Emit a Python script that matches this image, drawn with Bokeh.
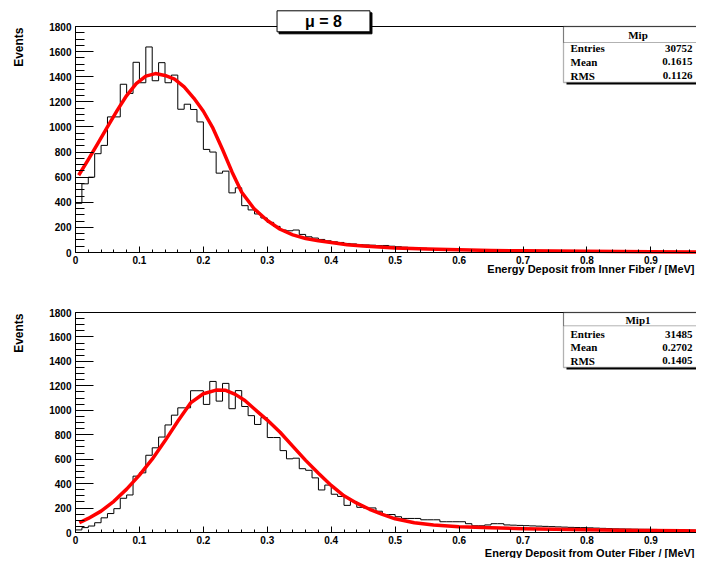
import numpy as np
from bokeh.plotting import figure
from bokeh.models import Range1d, FixedTicker, Label, BoxAnnotation
from bokeh.layouts import column
from bokeh.embed import file_html
from bokeh.resources import INLINE

# ---------------- data ----------------
bin_width = 0.01

inner_counts = [392, 547, 600, 787, 853, 1080, 1080, 1340, 1267, 1515,
                1352, 1637, 1368, 1512, 1352, 1413, 1141, 1181, 1139, 1040,
                821, 800, 632, 648, 475, 515, 373, 339, 307, 275,
                240, 208, 179, 173, 179, 144, 125, 115, 104, 93,
                85, 80, 72, 68, 62, 60, 58, 55, 56, 50,
                46, 42, 40, 37, 34, 32, 30, 28, 26, 24,
                22, 21, 20, 19, 18, 17, 16, 15, 14, 13,
                12, 12, 11, 11, 10, 10, 9, 9, 8, 8,
                8, 7, 7, 7, 6, 6, 6, 6, 5, 5,
                5, 5, 5, 4, 4, 4, 4, 4, 3, 3]

outer_counts = [21, 40, 53, 80, 120, 155, 195, 280, 307, 461,
                488, 632, 693, 781, 880, 960, 1020, 1020, 1160, 1160,
                1048, 1236, 1075, 1220, 1013, 1161, 1031, 956, 884, 940,
                777, 777, 670, 603, 608, 522, 509, 447, 348, 388,
                313, 295, 222, 254, 206, 201, 201, 174, 147, 147,
                129, 115, 115, 115, 104, 104, 104, 88, 88, 88,
                88, 72, 55, 55, 62, 72, 72, 62, 60, 58,
                56, 54, 52, 50, 48, 46, 44, 42, 41, 40,
                38, 36, 34, 32, 30, 29, 28, 27, 26, 26,
                25, 24, 23, 22, 21, 20, 19, 18, 17, 16]

inner_fit_x = [0.005, 0.02, 0.035, 0.05, 0.065, 0.08, 0.095, 0.11, 0.125, 0.14,
               0.155, 0.17, 0.185, 0.2, 0.215, 0.23, 0.245, 0.26, 0.28, 0.3,
               0.32, 0.34, 0.36, 0.38, 0.4, 0.425, 0.45, 0.5, 0.55, 0.6,
               0.65, 0.7, 0.8, 0.9, 1.0]
inner_fit_y = [615, 740, 870, 1000, 1130, 1250, 1345, 1405, 1425, 1410,
               1380, 1320, 1230, 1125, 990, 820, 640, 480, 345, 255,
               185, 140, 112, 94, 80, 61, 51, 35, 27, 21,
               16, 13, 9, 6, 4]

outer_fit_x = [0.006, 0.02, 0.04, 0.06, 0.08, 0.1, 0.12, 0.14, 0.16, 0.18,
               0.2, 0.22, 0.235, 0.25, 0.265, 0.28, 0.3, 0.32, 0.34, 0.36,
               0.38, 0.4, 0.42, 0.44, 0.46, 0.48, 0.5, 0.53, 0.56, 0.6,
               0.65, 0.7, 0.75, 0.8, 0.85, 0.9, 0.95, 1.0]
outer_fit_y = [80, 115, 175, 255, 355, 470, 600, 750, 910, 1060,
               1135, 1165, 1163, 1130, 1080, 1010, 920, 820, 705, 590,
               485, 385, 300, 240, 190, 148, 112, 80, 62, 48,
               38, 31, 26, 22, 18, 16, 14, 12]

x_ticks = [0, 0.1, 0.2, 0.3, 0.4, 0.5, 0.6, 0.7, 0.8, 0.9, 1.0]
x_tick_labels = ["0", "0.1", "0.2", "0.3", "0.4", "0.5", "0.6", "0.7", "0.8", "0.9", "1"]
y_ticks = [0, 200, 400, 600, 800, 1000, 1200, 1400, 1600, 1800]

title_text = "\u03bc = 8"
y_title = "Events"
inner_title = "Energy Deposit from Inner Fiber / [MeV]"
outer_title = "Energy Deposit from Outer Fiber / [MeV]"
stat_labels = ["Entries", "Mean", "RMS"]
inner_stats = ["30752", "0.1615", "0.1126"]
outer_stats = ["31485", "0.2702", "0.1405"]

# ---------------- layout helpers ----------------
W = 696
AXIS_X = 75.0          # pixel of x = 0
PX_PER_UNIT = 639.3    # pixels per 1.0 of x
SANS = "Liberation Sans"
SERIF = "Liberation Serif"


def make_panel(counts, fit_x, fit_y, fig_h, shift, frame_top, frame_h,
               xtitle, xtitle_mid, stat_name, stat_vals, stat_rows):
    # reference pixel y -> local canvas pixel y is (py - shift)
    frame_bottom = frame_top + frame_h   # local pixels

    def tx(px):
        return (px - AXIS_X) / PX_PER_UNIT

    def ty(py):
        return (frame_bottom - (py - shift)) * 1800.0 / frame_h

    x0 = tx(0)
    x1 = tx(W)
    y1 = (frame_bottom - 0) * 1800.0 / frame_h
    y0 = (frame_bottom - fig_h) * 1800.0 / frame_h

    p = figure(width=W, height=fig_h, x_range=Range1d(x0, x1), y_range=Range1d(y0, y1),
               output_backend="svg", toolbar_location=None, title=None,
               min_border_left=0, min_border_right=0, min_border_top=0, min_border_bottom=0)
    p.background_fill_color = "white"
    p.border_fill_color = "white"
    p.outline_line_color = None
    p.xgrid.visible = False
    p.ygrid.visible = False

    # histogram outline and fit
    edges = np.arange(len(counts) + 1) * bin_width
    p.step(edges, np.append(counts, counts[-1]), mode="after",
           line_color="black", line_width=1)
    p.line(fit_x, fit_y, line_color="#ff0000", line_width=3.5, line_join="round")

    # frame top border
    p.segment(x0=[0], y0=[1800], x1=[x1 + 0.05], y1=[1800], line_color="black", line_width=1)

    ax = p.xaxis[0]
    ax.fixed_location = 0
    ax.bounds = (0, 1)
    ax.ticker = FixedTicker(ticks=x_ticks, minor_ticks=[round(v, 2) for v in np.arange(0, 1.001, 0.02)])
    ax.major_label_overrides = dict(zip(x_ticks, x_tick_labels))
    ax.major_tick_in = 6
    ax.major_tick_out = 0
    ax.minor_tick_in = 3
    ax.minor_tick_out = 0
    ax.major_label_standoff = 3
    ay = p.yaxis[0]
    ay.fixed_location = 0
    ay.bounds = (0, 1800)
    ay.ticker = FixedTicker(ticks=y_ticks, minor_ticks=list(range(0, 1801, 50)))
    ay.major_tick_in = 18
    ay.major_tick_out = 0
    ay.minor_tick_in = 9
    ay.minor_tick_out = 0
    ay.major_label_standoff = 4
    for a in (ax, ay):
        a.axis_line_color = "black"
        a.major_tick_line_color = "black"
        a.minor_tick_line_color = "black"
        a.major_label_text_font = SANS
        a.major_label_text_font_size = "10px"
        a.major_label_text_font_style = "bold"
        a.major_label_text_color = "black"

    # axis titles
    p.add_layout(Label(x=tx(18), y=ty(frame_top + shift + 1), text=y_title, angle=90,
                       angle_units="deg", text_align="right", text_baseline="middle",
                       text_font=SANS, text_font_size="12px", text_font_style="bold",
                       text_color="black"))
    p.add_layout(Label(x=tx(694), y=ty(xtitle_mid), text=xtitle, text_align="right",
                       text_baseline="middle", text_font=SANS, text_font_size="11px",
                       text_font_style="bold", text_color="black"))

    # stats box
    top_r, sep_r, rows_r, bot_r = stat_rows
    p.add_layout(BoxAnnotation(left=tx(566), right=1.2, top=ty(bot_r - 1), bottom=ty(bot_r + 2),
                               fill_color="black", fill_alpha=1, line_color=None))
    p.add_layout(BoxAnnotation(left=tx(563), right=1.2, top=ty(top_r), bottom=ty(bot_r),
                               fill_color="white", fill_alpha=1, line_color="black", line_width=1.3))
    p.add_layout(BoxAnnotation(left=tx(563), right=1.2, top=ty(top_r), bottom=ty(sep_r),
                               fill_color=None, fill_alpha=0, line_color="black", line_width=1))
    p.add_layout(Label(x=tx(637.5), y=ty((top_r + sep_r) / 2 + 0.5), text=stat_name,
                       text_align="center", text_baseline="middle", text_font=SERIF,
                       text_font_size="11px", text_font_style="bold", text_color="black"))
    for lab, val, ry in zip(stat_labels, stat_vals, rows_r):
        p.add_layout(Label(x=tx(570), y=ty(ry), text=lab, text_align="left",
                           text_baseline="middle", text_font=SERIF, text_font_size="11px",
                           text_font_style="bold", text_color="black"))
        p.add_layout(Label(x=tx(692), y=ty(ry), text=val, text_align="right",
                           text_baseline="middle", text_font=SERIF, text_font_size="11px",
                           text_font_style="bold", text_color="black"))
    return p, tx, ty


p1, tx1, ty1 = make_panel(inner_counts, inner_fit_x, inner_fit_y, fig_h=276, shift=0,
                          frame_top=26, frame_h=226, xtitle=inner_title, xtitle_mid=268,
                          stat_name="Mip", stat_vals=inner_stats,
                          stat_rows=(26, 42, [47.5, 61.2, 75.3], 82))

# title box with shadow
p1.add_layout(Label(x=tx1(323), y=ty1(20.8), text=title_text, text_align="center",
                    text_baseline="middle", text_font=SANS, text_font_size="16px",
                    text_font_style="bold", text_color="black", padding=(28, 2),
                    background_fill_color="black", border_line_color="black",
                    x_offset=2, y_offset=-2))
p1.add_layout(Label(x=tx1(323), y=ty1(20.8), text=title_text, text_align="center",
                    text_baseline="middle", text_font=SANS, text_font_size="16px",
                    text_font_style="bold", text_color="black", padding=(28, 2),
                    background_fill_color="white", border_line_color="black",
                    border_line_width=1))

# bottom panel: figure starts at 276; reference y coordinates moved up by 8
p2, tx2, ty2 = make_panel(outer_counts, outer_fit_x, outer_fit_y, fig_h=282, shift=284,
                          frame_top=36, frame_h=220, xtitle=outer_title, xtitle_mid=560.5,
                          stat_name="Mip1", stat_vals=outer_stats,
                          stat_rows=(320, 333.3, [341.7, 354.5, 368.3], 375))

layout = column(p1, p2)
open("out.html", "w").write(file_html(layout, INLINE))
